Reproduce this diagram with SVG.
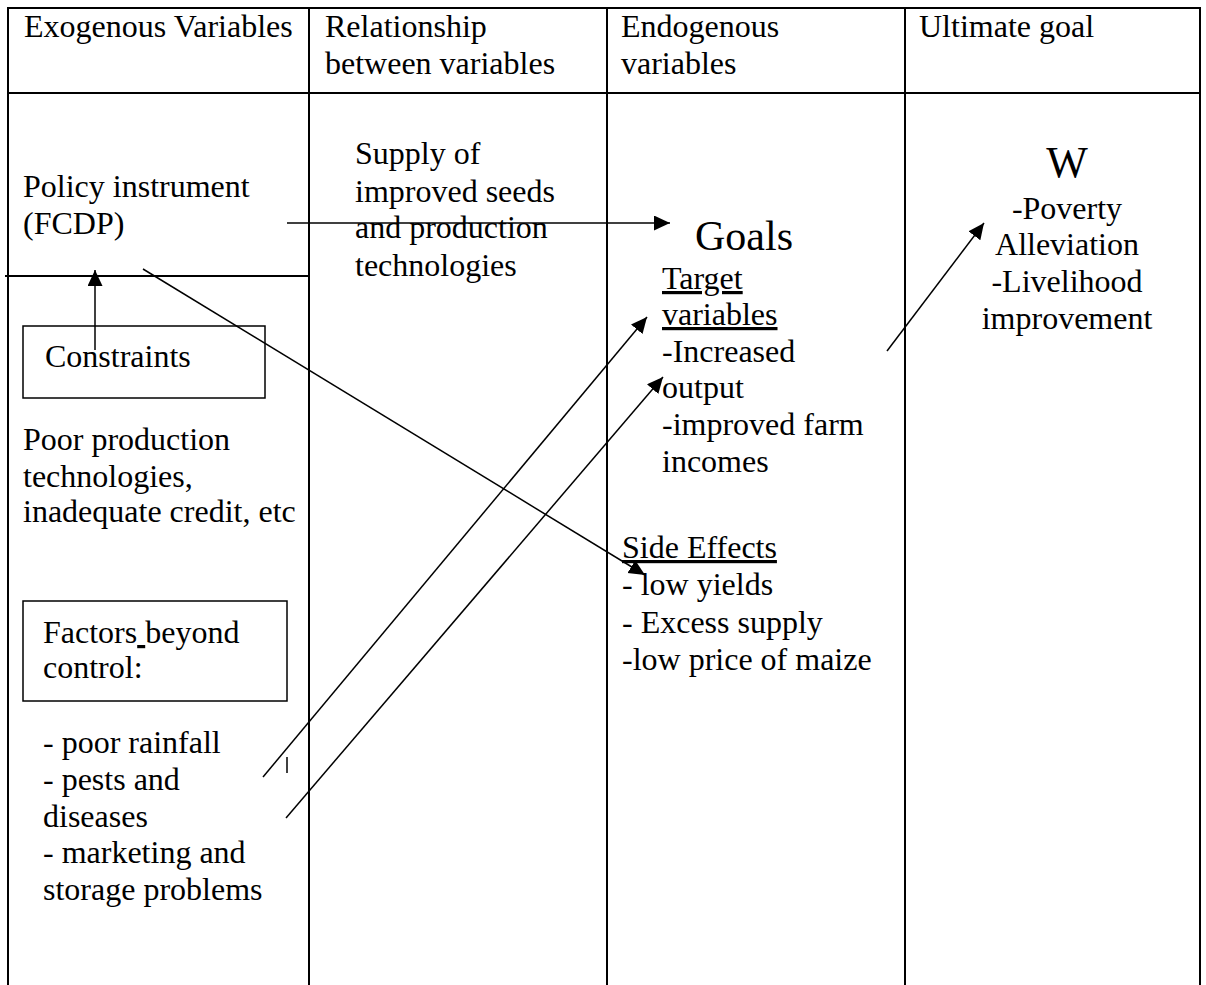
<svg xmlns="http://www.w3.org/2000/svg" width="1206" height="985" viewBox="0 0 1206 985">
<style>
text{font-family:"Liberation Serif","Times New Roman",serif;font-size:32px;fill:#000}
.big{font-size:42px}
.w{font-size:44px}
.u{text-decoration:underline}
.mid{text-anchor:middle}
.grid{stroke:#000;stroke-width:2;fill:none}
.box{stroke:#000;stroke-width:1.5;fill:none}
.conn{stroke:#000;stroke-width:1.5;fill:none}
</style>
<defs>
<marker id="ah" markerUnits="userSpaceOnUse" markerWidth="18" markerHeight="16" refX="16" refY="7.5" orient="auto">
<path d="M0,0 L16,7.5 L0,15 Z" fill="#000"/>
</marker>
</defs>
<rect width="1206" height="985" fill="#fff"/>
<g id="table">
<line class="grid" x1="8" y1="8" x2="1200" y2="8"/>
<line class="grid" x1="8" y1="93" x2="1200" y2="93"/>
<line class="grid" x1="8" y1="7" x2="8" y2="985"/>
<line class="grid" x1="309" y1="7" x2="309" y2="985"/>
<line class="grid" x1="607" y1="7" x2="607" y2="985"/>
<line class="grid" x1="905" y1="7" x2="905" y2="985"/>
<line class="grid" x1="1200" y1="7" x2="1200" y2="985"/>
<line class="grid" x1="5" y1="276" x2="309" y2="276"/>
</g>
<g id="headers">
<text x="24" y="37">Exogenous Variables</text>
<text x="325" y="37">Relationship</text>
<text x="325" y="74">between variables</text>
<text x="621" y="37">Endogenous</text>
<text x="621" y="74">variables</text>
<text x="919" y="37">Ultimate goal</text>
</g>
<g id="policy">
<text x="23" y="197">Policy instrument</text>
<text x="23" y="234">(FCDP)</text>
</g>
<g id="constraints">
<rect class="box" x="23" y="326" width="242" height="72"/>
<text x="45" y="367">Constraints</text>
</g>
<g id="constraints-text">
<text x="23" y="450">Poor production</text>
<text x="23" y="487">technologies,</text>
<text x="23" y="522">inadequate credit, etc</text>
</g>
<g id="factors">
<rect class="box" x="23" y="601" width="264" height="100"/>
<text x="43" y="643">Factors<tspan class="u"> </tspan>beyond</text>
<text x="43" y="678">control:</text>
</g>
<g id="factors-list">
<text x="43" y="753">- poor rainfall</text>
<text x="43" y="790">- pests and</text>
<text x="43" y="827">diseases</text>
<text x="43" y="863">- marketing and</text>
<text x="43" y="900">storage problems</text>
</g>
<g id="relationship">
<text x="355" y="164">Supply of</text>
<text x="355" y="202">improved seeds</text>
<text x="355" y="238">and production</text>
<text x="355" y="276">technologies</text>
</g>
<g id="goals">
<text class="big" x="695" y="250">Goals</text>
<text class="u" x="662" y="289">Target</text>
<text class="u" x="662" y="325">variables</text>
<text x="662" y="362">-Increased</text>
<text x="662" y="398">output</text>
<text x="662" y="435">-improved farm</text>
<text x="662" y="472">incomes</text>
</g>
<g id="side-effects">
<text class="u" x="622" y="558">Side Effects</text>
<text x="622" y="595">- low yields</text>
<text x="622" y="633">- Excess supply</text>
<text x="622" y="670">-low price of maize</text>
</g>
<g id="ultimate">
<text class="w mid" x="1067" y="177">W</text>
<text class="mid" x="1067" y="219">-Poverty</text>
<text class="mid" x="1067" y="255">Alleviation</text>
<text class="mid" x="1067" y="292">-Livelihood</text>
<text class="mid" x="1067" y="329">improvement</text>
</g>
<g id="connectors">
<line class="conn" x1="287" y1="223" x2="670" y2="223" marker-end="url(#ah)"/>
<line class="conn" x1="95" y1="350" x2="95" y2="270" marker-end="url(#ah)"/>
<line class="conn" x1="143" y1="269" x2="645" y2="575" marker-end="url(#ah)"/>
<line class="conn" x1="263" y1="777" x2="647" y2="317" marker-end="url(#ah)"/>
<line class="conn" x1="286" y1="818" x2="663" y2="377" marker-end="url(#ah)"/>
<line class="conn" x1="887" y1="351" x2="984" y2="223" marker-end="url(#ah)"/>
<line class="conn" x1="287" y1="757" x2="287" y2="773" stroke-width="1"/>
</g>
</svg>
